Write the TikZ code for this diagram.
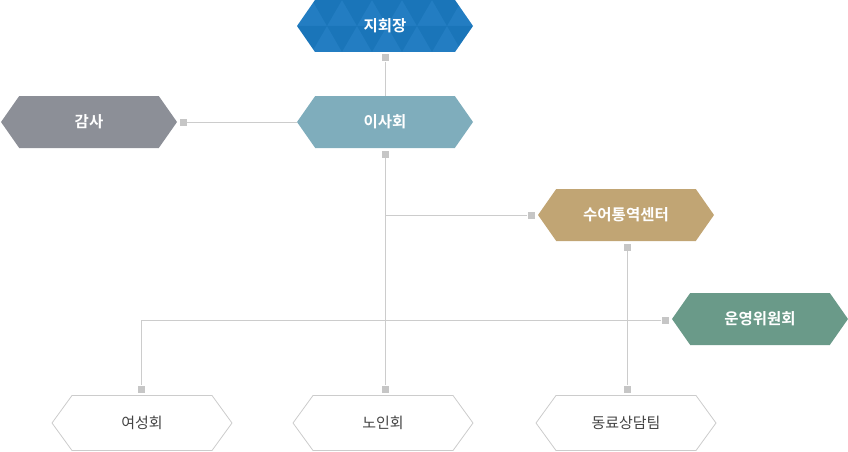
\documentclass[tikz,border=0pt]{standalone}
\usepackage{fontspec}
\newfontfamily\kr{Noto Sans CJK KR}[BoldFont={Noto Sans CJK KR Bold}]
\usetikzlibrary{shapes.symbols}

\definecolor{jblue}{HTML}{1B79C0}
\definecolor{isablue}{HTML}{7FADBC}
\definecolor{gamgray}{HTML}{8C8F97}
\definecolor{sugold}{HTML}{C1A574}
\definecolor{ungreen}{HTML}{6A9A89}
\definecolor{linegray}{HTML}{CCCCCC}
\definecolor{sqgray}{HTML}{C6C6C6}
\definecolor{txtgray}{HTML}{444444}

\tikzset{
  hexbox/.style={signal, signal to=west and east, signal pointer angle=110,
    minimum width=176, minimum height=52, inner sep=0pt, text=white,
    font=\kr\bfseries\fontsize{15.5}{18}\selectfont},
  subbox/.style={signal, signal to=west and east, signal pointer angle=108,
    minimum width=180, minimum height=55, inner sep=0pt, draw=linegray,
    line width=0.8pt, fill=white, text=txtgray,
    font=\kr\fontsize{15}{18}\selectfont},
  sq/.style={fill=sqgray, minimum size=7, inner sep=0pt},
  wire/.style={draw=linegray, line width=0.8pt}
}

\begin{document}
\begin{tikzpicture}[x=1pt,y=1pt,yscale=-1]
\useasboundingbox (0,0) rectangle (848,452);

% top node with triangle pattern
\begin{scope}
\clip (297,26) -- (315,0) -- (455,0) -- (473,26) -- (455,52) -- (315,52) -- cycle;
\fill [jblue] (290,0) rectangle (480,52);
\foreach \r in {0,1} {
  \foreach \i in {-1,...,6} {
    \pgfmathsetmacro{\xa}{297+30*\i+15*\r}
    \pgfmathsetmacro{\ya}{26*\r}
    \fill [white, opacity=0.035] (\xa,\ya+26) -- (\xa+15,\ya) -- (\xa+30,\ya+26) -- cycle;
    \fill [black, opacity=0.03] (\xa+15,\ya) -- (\xa+30,\ya+26) -- (\xa+45,\ya) -- cycle;
  }
}
\end{scope}
\node [hexbox] (jhj) at (385,26) {지회장};

% main nodes
\node [hexbox, fill=isablue] (isa) at (385,122) {이사회};
\node [hexbox, fill=gamgray] (gamsa) at (89,122) {감사};
\node [hexbox, fill=sugold] (sueo) at (626,215) {수어통역센터};
\node [hexbox, fill=ungreen] (unyeong) at (760,319) {운영위원회};

% bottom nodes
\node [subbox] (yeo) at (142,423) {여성회};
\node [subbox] (noin) at (383,423) {노인회};
\node [subbox] (dong) at (626,423) {동료상담팀};

% connector squares
\node [sq] (jhj-s) at (385,58) {};
\node [sq] (isa-s) at (385,154) {};
\node [sq] (gam-s) at (183,122) {};
\node [sq] (sueo-l) at (531,215) {};
\node [sq] (sueo-b) at (627,247) {};
\node [sq] (un-l) at (665,320) {};
\node [sq] (yeo-s) at (141,389) {};
\node [sq] (noin-s) at (385,389) {};
\node [sq] (dong-s) at (627,389) {};

% lines
\draw [wire] (jhj-s) -- (isa.north);
\draw [wire] (gam-s) -- (isa.west);
\draw [wire] (isa-s) -- (noin-s);
\draw [wire] (isa-s |- sueo-l) -- (sueo-l);
\draw [wire] (un-l) -- (yeo-s |- un-l) -- (yeo-s);
\draw [wire] (sueo-b) -- (dong-s);

\end{tikzpicture}
\end{document}
